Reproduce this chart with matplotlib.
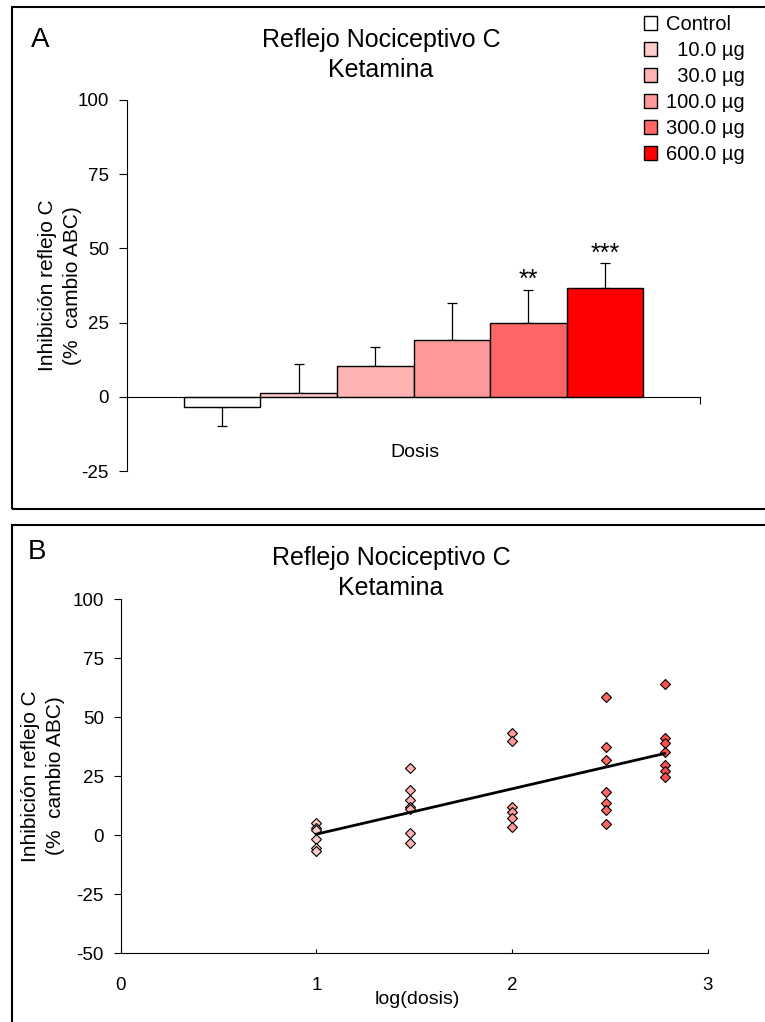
import numpy as np
import matplotlib
matplotlib.use('Agg')
import matplotlib.pyplot as plt
from matplotlib.patches import Rectangle

plt.rcParams['font.family'] = ['Liberation Sans', 'DejaVu Sans']
plt.rcParams['axes.unicode_minus'] = False

# Panel A: mean inhibition per dose (bars) with one-sided SEM
doses = ['Control', '  10.0 µg', '  30.0 µg', '100.0 µg', '300.0 µg', '600.0 µg']
means = [-3.6, 1.3, 10.3, 19.0, 24.9, 36.7]
errors = [6.3, 9.6, 6.5, 12.6, 11.2, 8.4]
stars = ['', '', '', '', '**', '***']
bar_colors = ['white', '#FFCCCC', '#FFB3B3', '#FF9999', '#FF6666', '#FF0000']

# Panel B: individual responses vs log(dose)
dose_ug = [10, 30, 100, 300, 600]
responses = [
    [5.0, 3.0, 2.1, -1.8, -5.6, -6.6],
    [28.2, 19.1, 14.8, 11.7, 10.9, 1.0, -3.3],
    [43.1, 40.0, 12.0, 9.9, 7.3, 3.2],
    [58.3, 37.3, 31.8, 18.1, 13.4, 10.6, 4.7],
    [64.0, 41.0, 39.1, 35.3, 29.7, 27.3, 24.7],
]
marker_colors = ['#FFCCCC', '#FFB3B3', '#FF9999', '#FF6666', '#FF4D4D']

W, H = 765, 1022
fig = plt.figure(figsize=(W / 100, H / 100), dpi=100)

# panel frames
fig.add_artist(Rectangle((12 / W, 1 - 509 / H), 1.0, (509 - 7) / H, transform=fig.transFigure,
                         fill=False, ec='black', lw=1.5))
fig.add_artist(Rectangle((12 / W, -0.05), 1.0, 0.05 + 1 - 525 / H, transform=fig.transFigure,
                         fill=False, ec='black', lw=1.5))

# ---- panel A ----
axA = fig.add_axes([127 / W, 1 - 471 / H, 573 / W, 371 / H])
x = np.arange(len(means))
bars = axA.bar(x, means, width=1, color=bar_colors, edgecolor='black', linewidth=1, zorder=2)
lower = [e if m < 0 else 0 for m, e in zip(means, errors)]
upper = [e if m >= 0 else 0 for m, e in zip(means, errors)]
axA.errorbar(x, means, yerr=[lower, upper], fmt='none', ecolor='black',
             elinewidth=0.9, capsize=3.5, capthick=0.9, zorder=1)
for i, s in enumerate(stars):
    if s:
        axA.text(x[i], means[i] + errors[i] + 3.2, s, ha='center', va='center', fontsize=18)

axA.set_xlim(-1.24, 6.24)
axA.set_ylim(-25, 100)
axA.set_yticks([-25, 0, 25, 50, 75, 100])
axA.set_xticks([6.24])
axA.set_xticklabels([''])
axA.spines['top'].set_visible(False)
axA.spines['right'].set_visible(False)
axA.spines['bottom'].set_position(('data', 0))
for sp in axA.spines.values():
    sp.set_linewidth(0.8)
axA.tick_params(axis='x', direction='out', length=5, width=0.8)
axA.tick_params(axis='y', direction='out', length=6, width=0.8, pad=7, labelsize=13.5)
axA.set_xlabel('Dosis', fontsize=14, va='center')
axA.xaxis.set_label_coords(0.503, 0.051)
axA.set_ylabel('Inhibición reflejo C\n(%  cambio ABC)', fontsize=15, linespacing=1.4, va='center')
axA.yaxis.set_label_coords(-0.117, 0.5)

fig.legend(handles=list(bars.patches), labels=doses, loc='upper left',
           bbox_to_anchor=(644 / W, 1 - 15 / H), frameon=False, fontsize=14.5,
           handlelength=0.65, handleheight=0.65, handletextpad=0.45, labelspacing=0.35,
           borderpad=0, borderaxespad=0)

fig.text(381 / W, 1 - 55 / H, 'Reflejo Nociceptivo C\nKetamina', ha='center', va='center',
         fontsize=18, linespacing=1.3)
fig.text(40 / W, 1 - 40 / H, 'A', ha='center', va='center', fontsize=20)

# ---- panel B ----
axB = fig.add_axes([120.5 / W, 1 - 953 / H, 587.5 / W, 354 / H])
log_dose = np.log10(dose_ug)
for lx, vals, c in zip(log_dose, responses, marker_colors):
    axB.plot([lx] * len(vals), vals, 'D', ms=5, mfc=c, mec='black', mew=0.8, ls='none', zorder=2)

all_x = np.concatenate([[lx] * len(v) for lx, v in zip(log_dose, responses)])
all_y = np.concatenate(responses)
slope, intercept = np.polyfit(all_x, all_y, 1)
xs = np.array([log_dose[0], log_dose[-1]])
axB.plot(xs, slope * xs + intercept, color='black', lw=2, zorder=3)

axB.set_xlim(0, 3)
axB.set_ylim(-50, 100)
axB.set_xticks([0, 1, 2, 3])
axB.set_xticks([0], minor=True)
axB.set_yticks([-50, -25, 0, 25, 50, 75, 100])
axB.spines['top'].set_visible(False)
axB.spines['right'].set_visible(False)
for sp in axB.spines.values():
    sp.set_linewidth(0.8)
axB.tick_params(axis='x', which='major', direction='in', length=3, width=0.8, pad=17, labelsize=13.5)
axB.tick_params(axis='x', which='minor', direction='out', length=4.5, width=0.8)
axB.tick_params(axis='y', direction='out', length=5, width=0.8, pad=7, labelsize=13.5)
axB.set_xlabel('log(dosis)', fontsize=14, va='center')
axB.xaxis.set_label_coords(0.505, -0.13)
axB.set_ylabel('Inhibición reflejo C\n(%  cambio ABC)', fontsize=15, linespacing=1.4, va='center')
axB.yaxis.set_label_coords(-0.132, 0.5)

fig.text(391 / W, 1 - 573 / H, 'Reflejo Nociceptivo C\nKetamina', ha='center', va='center',
         fontsize=18, linespacing=1.3)
fig.text(37 / W, 1 - 552 / H, 'B', ha='center', va='center', fontsize=20)

fig.savefig('out.png', dpi=100)
